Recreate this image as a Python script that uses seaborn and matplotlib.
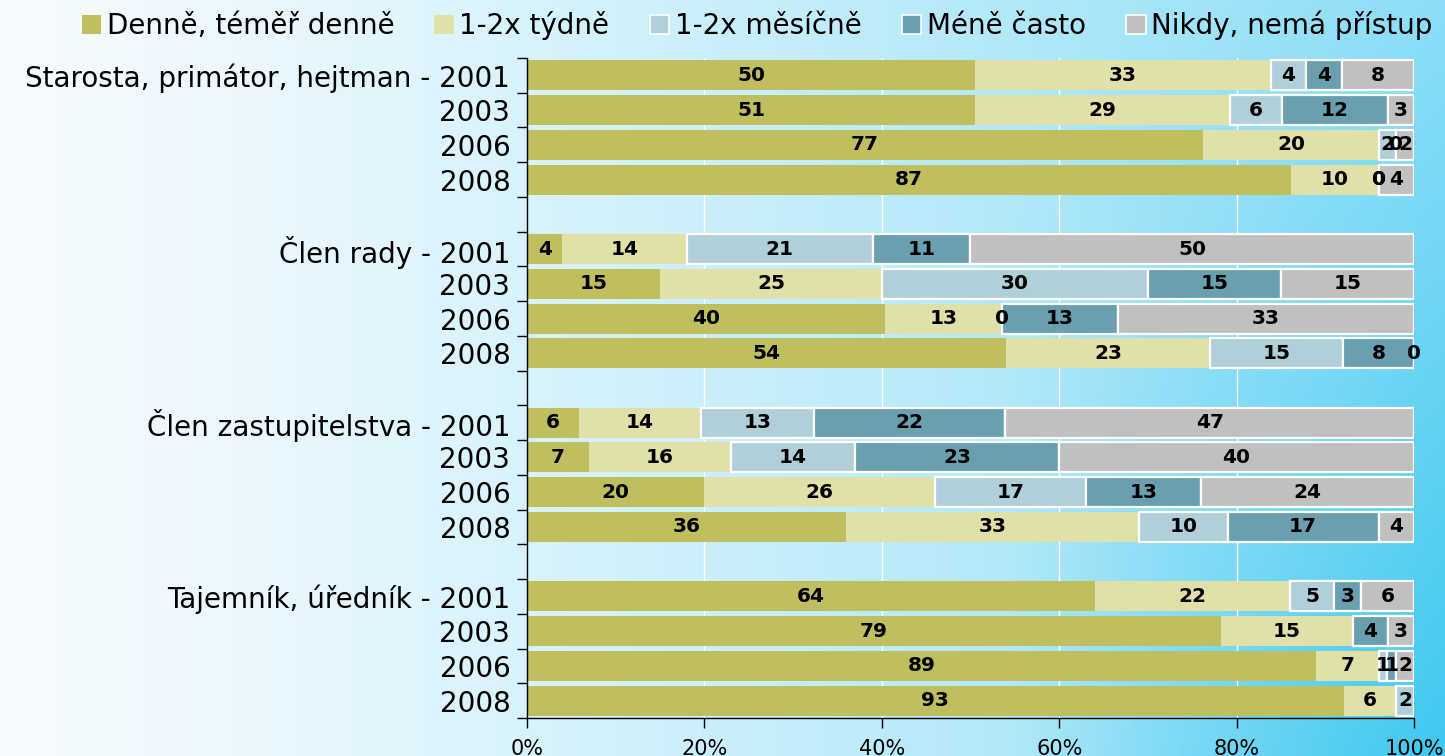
import numpy as np
import pandas as pd
import matplotlib
matplotlib.use("Agg")
import matplotlib.pyplot as plt
from matplotlib.patches import Patch
import seaborn as sns

# ---------------- data ----------------
groups = ["Starosta, primátor, hejtman", "Člen rady", "Člen zastupitelstva", "Tajemník, úředník"]
years = ["2001", "2003", "2006", "2008"]
series = ["Denně, téměř denně", "1-2x týdně", "1-2x měsíčně", "Méně často", "Nikdy, nemá přístup"]
colors = ["#BFBF60", "#E1E0A9", "#B1CFD8", "#699FAF", "#C0C0C0"]

nan = np.nan
denne   = [50, 51, 77, 87,   4, 15, 40, 54,   6, 7, 20, 36,   64, 79, 89, 93]
tydne   = [33, 29, 20, 10,  14, 25, 13, 23,  14, 16, 26, 33,  22, 15, 7, 6]
mesicne = [4, 6, 2, 0,      21, 30, 0, 15,   13, 14, 17, 10,  5, nan, 1, 2]
mene    = [4, 12, 0, 0,     11, 15, 13, 8,   22, 23, 13, 17,  3, 4, 1, nan]
nikdy   = [8, 3, 2, 4,      50, 15, 33, 0,   47, 40, 24, 4,   6, 3, 2, nan]
x_ticks = [0, 20, 40, 60, 80, 100]
x_tick_labels = ["0%", "20%", "40%", "60%", "80%", "100%"]

# ---------------- build table ----------------
vals = np.array([denne, tydne, mesicne, mene, nikdy], dtype=float)  # 5 x 16
tot = np.nansum(vals, axis=0)
pct = vals / tot * 100.0
cum_left = np.nancumsum(np.vstack([np.zeros(16), np.nan_to_num(pct[:-1])]), axis=0)

row_keys, row_labels, data_idx = [], [], []
k = 0
for gi, g in enumerate(groups):
    for yi, y in enumerate(years):
        row_keys.append(f"r{len(row_keys)}")
        row_labels.append(f"{g} - {y}" if yi == 0 else y)
        data_idx.append(k)
        k += 1
    if gi < len(groups) - 1:
        row_keys.append(f"r{len(row_keys)}")
        row_labels.append("")
        data_idx.append(None)

records = []
for pos, (key, di) in enumerate(zip(row_keys, data_idx)):
    if di is None:
        continue
    for si, s in enumerate(series):
        records.append(dict(row=key, pos=pos, series=s, value=vals[si, di],
                            pct=pct[si, di], left=cum_left[si, di]))
df = pd.DataFrame(records)

# ---------------- figure ----------------
W, H, DPI = 1445, 756, 100
fig = plt.figure(figsize=(W / DPI, H / DPI), dpi=DPI)

# background gradient
bg = fig.add_axes([0, 0, 1, 1], zorder=-10)
xx, yy = np.meshgrid(np.linspace(0, 1, 400), np.linspace(0, 1, 200))
c0 = np.array([246, 251, 254]) / 255
c1 = np.array([140, 222, 247]) / 255
c2 = np.array([55, 198, 240]) / 255
t = xx ** 1.25
img = c0[None, None, :] * (1 - t[..., None]) + c1[None, None, :] * t[..., None]
s2 = (np.clip((xx - 0.7) / 0.3, 0, 1) * yy)[..., None] * 0.9
img = img * (1 - s2) + c2[None, None, :] * s2
bg.imshow(img, aspect="auto", extent=[0, 1, 1, 0])
bg.set_axis_off()

ax = fig.add_axes([527 / W, 1 - 718 / H, (1414 - 527) / W, (718 - 58) / H])
ax.set_facecolor("none")

bar_h = 0.865
for si, s in enumerate(series):
    sub = df[(df.series == s) & df.value.notna()].sort_values("pos")
    edge = "white" if si >= 2 else "none"
    lw = 1.6 if si >= 2 else 0
    sns.barplot(data=sub, x="pct", y="row", order=row_keys, orient="h",
                color=colors[si], saturation=1, errorbar=None, width=bar_h,
                left=sub["left"].to_numpy(), edgecolor=edge, linewidth=lw,
                ax=ax, zorder=3)
    cont = ax.containers[-1]
    labels = [f"{int(v)}" for v in sub["value"]]
    ax.bar_label(cont, labels=labels, label_type="center", fontsize=14.5,
                 fontweight="bold", color="black", zorder=5)

ax.set_xlim(0, 100)
ax.set_ylim(len(row_keys) - 0.5, -0.5)
ax.set_xticks(x_ticks, x_tick_labels)
ax.set_yticks(range(len(row_keys)), row_labels)
ax.set_yticks(np.arange(-0.5, len(row_keys), 1.0), minor=True)
ax.tick_params(axis="y", which="major", length=0, pad=12, labelsize=20)
ax.tick_params(axis="y", which="minor", length=7, width=1, color="black", direction="out")
ax.tick_params(axis="x", which="major", length=7, width=1, pad=8, labelsize=15)
ax.set_xlabel("")
ax.set_ylabel("")
for sp in ["top", "right"]:
    ax.spines[sp].set_visible(False)
for sp in ["left", "bottom"]:
    ax.spines[sp].set_color("black")
    ax.spines[sp].set_linewidth(1)
    ax.spines[sp].set_zorder(6)
ax.grid(False)
for xv in x_ticks[1:-1]:
    ax.axvline(xv, color="white", lw=1, zorder=1)

handles = [Patch(facecolor=c, edgecolor=("white" if i >= 2 else "none"), linewidth=1.2)
           for i, c in enumerate(colors)]
fig.legend(handles, series, ncol=5, loc="upper center", bbox_to_anchor=(757 / W, 1.008),
           frameon=False, fontsize=20, handlelength=0.7, handleheight=0.7,
           handletextpad=0.2, columnspacing=1.45, borderaxespad=0.2)

fig.savefig("out.png", dpi=DPI)
